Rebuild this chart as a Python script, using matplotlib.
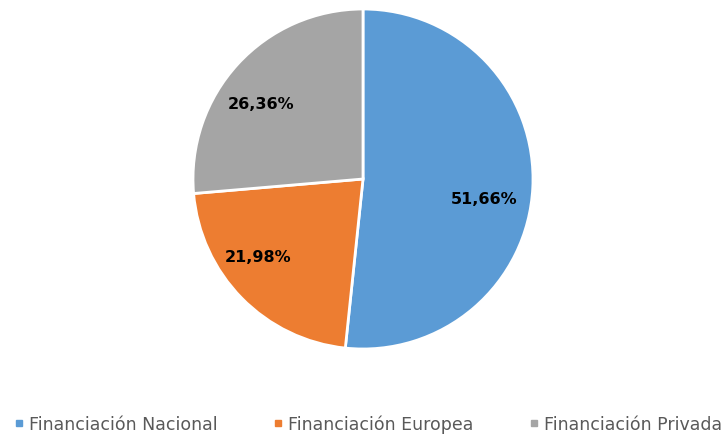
import numpy as np
import matplotlib.pyplot as plt
from matplotlib.lines import Line2D

labels = ['Financiación Nacional', 'Financiación Europea', 'Financiación Privada']
shares = [51.66, 21.98, 26.36]
colors = ['#5B9BD5', '#ED7D31', '#A5A5A5']

# per-slice placement of the percentage text: angle shift (deg) and radius
label_shift = [-6, -8, 6]
label_radius = [0.72, 0.77, 0.75]

plt.rcParams['font.family'] = ['DejaVu Sans']

fig = plt.figure(figsize=(7.25, 4.39), dpi=100)
ax = fig.add_axes([193 / 725, 89 / 439, 340 / 725, 340 / 439])

wedges, texts, autotexts = ax.pie(
    shares, colors=colors, startangle=90, counterclock=False,
    autopct=lambda p: ('%.2f%%' % p).replace('.', ','),
    pctdistance=0.74,
    wedgeprops=dict(edgecolor='white', linewidth=2),
    textprops=dict(fontsize=11.5, fontweight='bold', color='black'))

for w, t, d, r in zip(wedges, autotexts, label_shift, label_radius):
    mid = np.deg2rad((w.theta1 + w.theta2) / 2 + d)
    t.set_position((r * np.cos(mid), r * np.sin(mid)))

ax.set_xlim(-1, 1)
ax.set_ylim(-1, 1)
ax.set_aspect('equal')

handles = [Line2D([], [], marker='s', linestyle='', markersize=5,
                  markerfacecolor=c, markeredgecolor=c) for c in colors]
fig.legend(handles, labels, loc='center', bbox_to_anchor=(368 / 725, 1 - 425 / 439),
           ncol=3, frameon=False, fontsize=12.5, labelcolor='#595959',
           handletextpad=0.3, columnspacing=3.15, handlelength=0.6)

fig.savefig('out.png', dpi=100, facecolor='white')
